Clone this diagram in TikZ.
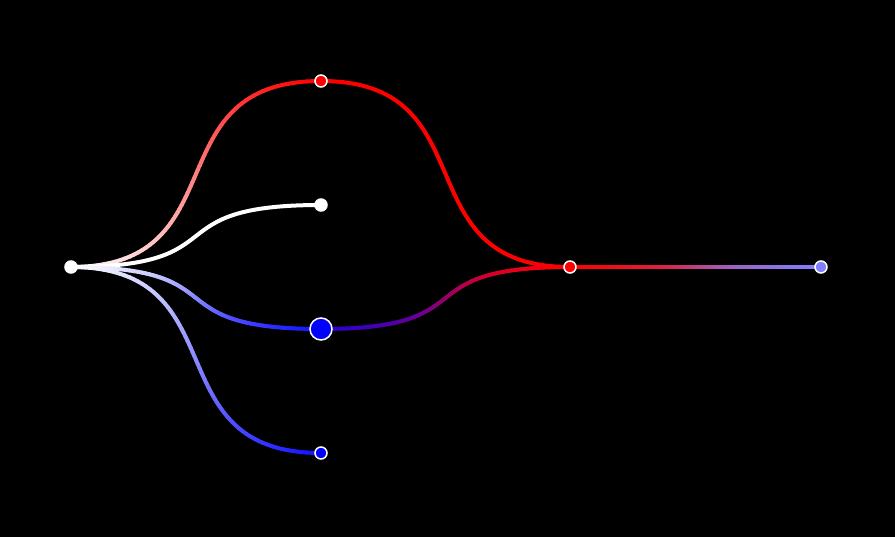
\documentclass[tikz,border=0pt]{standalone}
\usetikzlibrary{calc}
\definecolor{cred}{RGB}{255,0,0}
\definecolor{cblue}{RGB}{20,20,255}
\definecolor{dblue}{RGB}{40,0,210}
\definecolor{lblue}{RGB}{128,128,255}
\tikzset{
  dot/.style={circle, draw=white, line width=1.5pt, inner sep=0pt, minimum size=12pt},
  bigdot/.style={dot, minimum size=22pt},
  wire/.style={line width=4pt, line cap=round},
}
\def\kk{0.68}
\newcommand\gradwire[4]{%
  \foreach \k in {1,...,70}{%
    \pgfmathsetmacro\ta{(\k-1)/70}%
    \pgfmathsetmacro\tb{\k/70}%
    \pgfmathsetmacro\pc{100-(\k-0.5)/70*100}%
    \path let \p1=(#1.center), \p2=(#2.center) in
      (\p1) .. controls ({\x1+\kk*(\x2-\x1)},\y1) and ({\x2-\kk*(\x2-\x1)},\y2) .. (\p2)
      coordinate[pos=\ta] (ga) coordinate[pos=\tb] (gb);
    \draw[wire, #3!\pc!#4] (ga) -- (gb);
  }}
\newcommand\plainwire[3]{%
  \draw[wire, #3] let \p1=(#1.center), \p2=(#2.center) in
      (\p1) .. controls ({\x1+\kk*(\x2-\x1)},\y1) and ({\x2-\kk*(\x2-\x1)},\y2) .. (\p2);}
\begin{document}
\begin{tikzpicture}[x=1pt,y=-1pt]
  \fill[black] (0,0) rectangle (895,537);
  \useasboundingbox (0,0) rectangle (895,537);
  % node positions (drawn later on top)
  \coordinate (L) at (71,267);
  \coordinate (T) at (321,81);
  \coordinate (W) at (321,205);
  \coordinate (B) at (321,329);
  \coordinate (D) at (321,453);
  \coordinate (R) at (570,267);
  \coordinate (E) at (821,267);
  % connectors
  \gradwire{L}{T}{white}{cred}
  \plainwire{L}{W}{white}
  \gradwire{L}{B}{white}{cblue}
  \gradwire{L}{D}{white}{cblue}
  \plainwire{T}{R}{cred}
  \gradwire{B}{R}{dblue}{cred}
  \gradwire{R}{E}{cred}{lblue}
  % nodes
  \node[dot, fill=white] (nL) at (L) {};
  \node[dot, fill=cred] (nT) at (T) {};
  \node[dot, fill=white] (nW) at (W) {};
  \node[bigdot, fill=blue] (nB) at (B) {};
  \node[dot, fill=blue] (nD) at (D) {};
  \node[dot, fill=cred] (nR) at (R) {};
  \node[dot, fill=lblue] (nE) at (E) {};
\end{tikzpicture}
\end{document}
